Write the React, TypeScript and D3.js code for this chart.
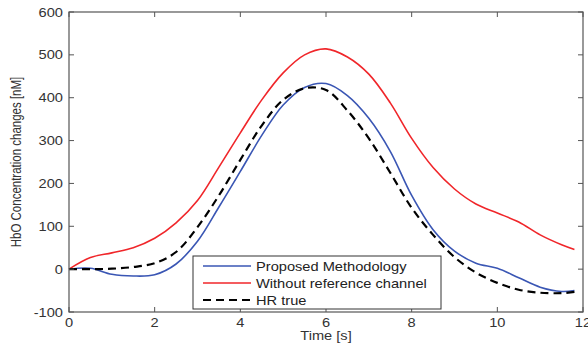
import * as React from "react";
import * as d3 from "d3";

// time axis [s]
const time = [0, 0.5, 1, 1.5, 2, 2.5, 3, 3.5, 4, 4.5, 5, 5.5, 6, 6.5, 7, 7.5, 8, 8.5, 9, 9.5, 10, 10.5, 11, 11.5, 11.8];

const proposed = [0, 2, -12, -16, -13, 12, 65, 145, 228, 312, 383, 424, 433, 405, 352, 275, 172, 92, 42, 14, 2, -20, -42, -52, -50];
const withoutRef = [0, 27, 38, 50, 72, 108, 160, 238, 318, 395, 458, 500, 514, 495, 455, 388, 305, 237, 187, 152, 131, 110, 80, 57, 46];
const hrTrue = [0, 0, 1, 5, 14, 40, 98, 172, 255, 335, 395, 422, 418, 370, 305, 225, 143, 80, 28, -8, -32, -48, -55, -56, -53];

const xTicks = [0, 2, 4, 6, 8, 10, 12];
const yTicks = [-100, 0, 100, 200, 300, 400, 500, 600];

const series = [
  { name: "Proposed Methodology", values: proposed, color: "#3a56b4", dash: null },
  { name: "Without reference channel", values: withoutRef, color: "#f0262a", dash: null },
  { name: "HR true", values: hrTrue, color: "#000000", dash: "8,5" },
];

const W = 588;
const H = 347;
const margin = { top: 12, right: 5, bottom: 35, left: 69 };
const font = "'Liberation Sans', Arial, sans-serif";
const stretch = 1.22;

export default function App() {
  const x = d3.scaleLinear().domain([0, 12]).range([margin.left, W - margin.right]);
  const y = d3.scaleLinear().domain([-100, 600]).range([H - margin.bottom, margin.top]);

  const line = (vals) =>
    d3
      .line()
      .x((d, i) => x(time[i]))
      .y((d) => y(d))
      .curve(d3.curveCatmullRom.alpha(0.5))(vals);

  const [x0, x1] = x.range();
  const [y0, y1] = y.range();
  const tick = 5;
  const axisColor = "#555";

  const legend = { x: 193, y: 256, w: 248, h: 53 };

  return (
    <svg width={W} height={H} style={{ position: "absolute", left: 0, top: 0, background: "#fff" }}>
      <rect x={0} y={0} width={W} height={H} fill="#fff" />

      {series.map((s) => (
        <path
          key={s.name}
          d={line(s.values)}
          fill="none"
          stroke={s.color}
          strokeWidth={s.dash ? 2.2 : 1.6}
          strokeDasharray={s.dash || undefined}
        />
      ))}

      {/* box */}
      <rect x={x0} y={y1} width={x1 - x0} height={y0 - y1} fill="none" stroke={axisColor} strokeWidth={1.2} />

      {xTicks.map((t) => (
        <g key={"x" + t}>
          <line x1={x(t)} x2={x(t)} y1={y0} y2={y0 - tick} stroke={axisColor} />
          <line x1={x(t)} x2={x(t)} y1={y1} y2={y1 + tick} stroke={axisColor} />
          <text
            transform={`translate(${x(t)},${y0 + 15}) scale(${stretch},1)`}
            textAnchor="middle"
            fontFamily={font}
            fontSize={12}
            fill="#333"
          >
            {t}
          </text>
        </g>
      ))}

      {yTicks.map((t) => (
        <g key={"y" + t}>
          <line x1={x0} x2={x0 + tick} y1={y(t)} y2={y(t)} stroke={axisColor} />
          <line x1={x1} x2={x1 - tick} y1={y(t)} y2={y(t)} stroke={axisColor} />
          <text
            transform={`translate(${x0 - 6},${y(t) + 4.5}) scale(${stretch},1)`}
            textAnchor="end"
            fontFamily={font}
            fontSize={12}
            fill="#333"
          >
            {t}
          </text>
        </g>
      ))}

      <text
        transform={`translate(${(x0 + x1) / 2},${H - 7}) scale(${stretch},1)`}
        textAnchor="middle"
        fontFamily={font}
        fontSize={12}
        fill="#333"
      >
        Time [s]
      </text>

      <text
        transform={`translate(21,${(y0 + y1) / 2}) scale(${stretch},1) rotate(-90)`}
        textAnchor="middle"
        fontFamily={font}
        fontSize={11.5}
        fill="#333"
      >
        HbO Concentration changes [nM]
      </text>

      {/* legend */}
      <rect x={legend.x} y={legend.y} width={legend.w} height={legend.h} fill="#fff" stroke="#333" strokeWidth={1} />
      {series.map((s, i) => {
        const ly = legend.y + 10 + i * 17;
        return (
          <g key={"lg" + s.name}>
            <line
              x1={legend.x + 10}
              x2={legend.x + 58}
              y1={ly}
              y2={ly}
              stroke={s.color}
              strokeWidth={s.dash ? 2.2 : 1.6}
              strokeDasharray={s.dash || undefined}
            />
            <text
              transform={`translate(${legend.x + 63},${ly + 4.5}) scale(${stretch},1)`}
              fontFamily={font}
              fontSize={12}
              fill="#222"
            >
              {s.name}
            </text>
          </g>
        );
      })}
    </svg>
  );
}
